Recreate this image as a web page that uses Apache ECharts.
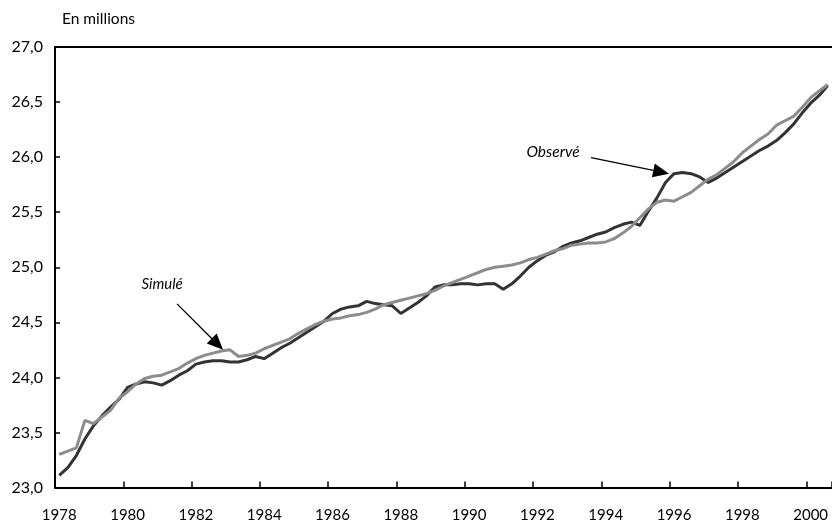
<!DOCTYPE html>
<html><head><meta charset="utf-8">
<script src="https://cdn.jsdelivr.net/npm/echarts@6/dist/echarts.min.js"></script>
<style>html,body{margin:0;padding:0;background:#fff}#c{width:832px;height:527px}</style>
</head><body><div id="c"></div>
<script>
// Quarterly categories 1978 Q1 .. 2000 Q3
const startYear = 1978;
const nQuarters = 91;
const tickLabels = ['1978','1980','1982','1984','1986','1988','1990','1992','1994','1996','1998','2000'];
const yTickLabels = ['23,0','23,5','24,0','24,5','25,0','25,5','26,0','26,5','27,0'];
const categories = [];
for (let i = 0; i < nQuarters; i++) categories.push((startYear + Math.floor(i / 4)) + 'T' + (i % 4 + 1));

// En millions
const observe = [
 23.11,23.18,23.29,23.44, 23.56,23.65,23.73,23.80,
 23.91,23.94,23.96,23.95, 23.93,23.97,24.02,24.06,
 24.12,24.14,24.15,24.15, 24.14,24.14,24.16,24.19,
 24.17,24.22,24.27,24.31, 24.36,24.41,24.46,24.51,
 24.58,24.62,24.64,24.65, 24.69,24.67,24.66,24.65,
 24.58,24.63,24.68,24.74, 24.82,24.84,24.84,24.85,
 24.85,24.84,24.85,24.85, 24.80,24.85,24.92,25.00,
 25.06,25.11,25.14,25.19, 25.22,25.24,25.27,25.30,
 25.32,25.36,25.39,25.41, 25.38,25.51,25.63,25.77,
 25.85,25.86,25.85,25.82, 25.77,25.81,25.86,25.91,
 25.96,26.01,26.06,26.10, 26.15,26.22,26.30,26.40,
 26.49,26.56,26.65
];
const simule = [
 23.30,23.33,23.36,23.61, 23.58,23.64,23.70,23.81,
 23.87,23.94,23.99,24.01, 24.02,24.05,24.08,24.13,
 24.17,24.20,24.22,24.24, 24.25,24.19,24.20,24.22,
 24.26,24.29,24.32,24.35, 24.40,24.44,24.48,24.51,
 24.53,24.54,24.56,24.57, 24.59,24.62,24.66,24.68,
 24.70,24.72,24.74,24.76, 24.79,24.83,24.86,24.89,
 24.92,24.95,24.98,25.00, 25.01,25.02,25.04,25.07,
 25.09,25.12,25.15,25.17, 25.20,25.21,25.22,25.22,
 25.23,25.26,25.31,25.37, 25.45,25.53,25.59,25.61,
 25.60,25.64,25.68,25.74, 25.80,25.84,25.90,25.96,
 26.04,26.10,26.16,26.21, 26.29,26.33,26.37,26.45,
 26.54,26.60,26.66
];

const FONT = 'Lato, "Open Sans", sans-serif';
const chart = echarts.init(document.getElementById('c'), null, {renderer: 'canvas'});
const option = {
  animation: false,
  backgroundColor: '#fff',
  grid: {left: 55, right: -6, top: 47, bottom: 39.5, containLabel: false},
  xAxis: [{
    type: 'category', data: categories, boundaryGap: true,
    axisLine: {show: true, lineStyle: {color: '#000', width: 2}},
    axisTick: {show: true, inside: true, length: 6, interval: 7, lineStyle: {color: '#000', width: 1.5}},
    axisLabel: {interval: 7, margin: 20, color: '#000', fontSize: 15, fontFamily: FONT,
      formatter: (v, idx) => tickLabels[Math.round(idx / 8)]},
    splitLine: {show: false}
  }, {
    type: 'category', data: categories, position: 'top', boundaryGap: true,
    axisLine: {show: true, lineStyle: {color: '#000', width: 2}},
    axisTick: {show: false}, axisLabel: {show: false}, splitLine: {show: false}
  }],
  yAxis: {
    type: 'value', min: 23, max: 27, interval: 0.5,
    axisLine: {show: true, lineStyle: {color: '#000', width: 2}},
    axisTick: {show: true, inside: true, length: 5, lineStyle: {color: '#000', width: 1.5}},
    axisLabel: {margin: 12, color: '#000', fontSize: 16, fontFamily: FONT,
      formatter: (v) => yTickLabels[Math.round((v - 23) / 0.5)]},
    splitLine: {show: false}
  },
  series: [
    {name: 'Observé', type: 'line', data: observe, symbol: 'none', z: 2,
     lineStyle: {color: '#333333', width: 3}},
    {name: 'Simulé', type: 'line', data: simule, symbol: 'none', z: 3,
     lineStyle: {color: '#8c8c8c', width: 3}}
  ],
  graphic: [{
    type: 'text', left: 62, top: 11,
    style: {text: 'En millions', fill: '#000', font: '15.5px ' + FONT}
  }]
};
chart.setOption(option);

function arrow(fromPt, tipPt) {
  const dx = tipPt[0] - fromPt[0], dy = tipPt[1] - fromPt[1];
  const len = Math.sqrt(dx * dx + dy * dy);
  const ux = dx / len, uy = dy / len;
  const hl = 16, hw = 7;
  const bx = tipPt[0] - ux * hl, by = tipPt[1] - uy * hl;
  return [
    {type: 'line', shape: {x1: fromPt[0], y1: fromPt[1], x2: bx, y2: by}, style: {stroke: '#000', lineWidth: 1.3}, z: 10},
    {type: 'polygon', shape: {points: [[tipPt[0], tipPt[1]], [bx - uy * hw, by + ux * hw], [bx + uy * hw, by - ux * hw]]}, style: {fill: '#000'}, z: 10}
  ];
}
const tipSim = chart.convertToPixel({gridIndex: 0}, [20, simule[20]]);
const tipObs = chart.convertToPixel({gridIndex: 0}, [72, observe[72]]);
const simTip = [tipSim[0] - 7, tipSim[1]];
const obsTip = [tipObs[0] - 5, tipObs[1]];
const g = option.graphic.slice();
g.push({type: 'text', x: simTip[0] - 61, y: simTip[1] - 66,
  style: {text: 'Simulé', fill: '#000', font: 'italic 15px ' + FONT, textAlign: 'center', textVerticalAlign: 'middle'}});
g.push(...arrow([simTip[0] - 46, simTip[1] - 46], simTip));
g.push({type: 'text', x: obsTip[0] - 116, y: obsTip[1] - 22,
  style: {text: 'Observé', fill: '#000', font: 'italic 15.5px ' + FONT, textAlign: 'center', textVerticalAlign: 'middle'}});
g.push(...arrow([obsTip[0] - 78, obsTip[1] - 16], obsTip));
chart.setOption({graphic: g});
</script></body></html>
